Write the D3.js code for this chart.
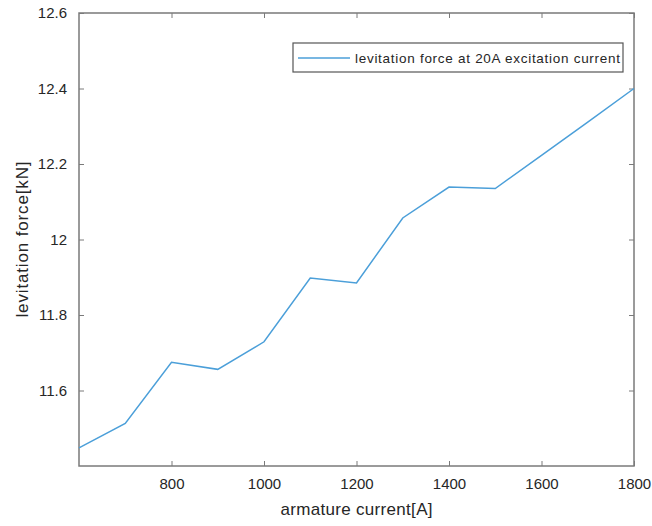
<!DOCTYPE html>
<html>
<head>
<meta charset="utf-8">
<script src="https://cdn.jsdelivr.net/npm/d3@7"></script>
<style>
  body { margin: 0; background: #fff; }
  svg text { font-family: "Liberation Sans", Arial, sans-serif; fill: #262626; }
</style>
</head>
<body>
<div id="chart"></div>
<script>
// data
var current = [600, 700, 800, 900, 1000, 1100, 1200, 1300, 1400, 1500, 1600, 1700, 1800];
var force = [11.448, 11.513, 11.675, 11.656, 11.729, 11.898, 11.885, 12.057, 12.139, 12.135, 12.223, 12.311, 12.4];
var xTicks = [800, 1000, 1200, 1400, 1600, 1800];
var yTicks = [11.6, 11.8, 12, 12.2, 12.4, 12.6];
var seriesName = "levitation force at 20A excitation current";

var width = 652, height = 526;
var margin = { top: 13, right: 18, bottom: 60, left: 79 };

var svg = d3.select("#chart").append("svg")
  .attr("width", width)
  .attr("height", height);

var x = d3.scaleLinear()
  .domain([600, 1800])
  .range([margin.left, width - margin.right]);

var y = d3.scaleLinear()
  .domain([11.4, 12.6])
  .range([height - margin.bottom, margin.top]);

var axisColor = "#7a7a7a";
var tickLen = 5;

// frame
svg.append("rect")
  .attr("x", x(600))
  .attr("y", y(12.6))
  .attr("width", x(1800) - x(600))
  .attr("height", y(11.4) - y(12.6))
  .attr("fill", "none")
  .attr("stroke", axisColor)
  .attr("stroke-width", 1.5);

// bottom axis
var xAxis = svg.append("g")
  .attr("transform", "translate(0," + y(11.4) + ")")
  .call(d3.axisBottom(x).tickValues(xTicks).tickSize(-tickLen).tickPadding(12).tickFormat(d3.format("d")));
xAxis.select(".domain").remove();
xAxis.selectAll("line").attr("stroke", axisColor);
xAxis.selectAll("text").style("font-size", "15px").attr("fill", "#262626");

// top ticks
svg.append("g")
  .attr("transform", "translate(0," + y(12.6) + ")")
  .call(d3.axisTop(x).tickValues(xTicks).tickSize(-tickLen).tickFormat(""))
  .call(function(g) { g.select(".domain").remove(); g.selectAll("line").attr("stroke", axisColor); });

// left axis
var yAxis = svg.append("g")
  .attr("transform", "translate(" + x(600) + ",0)")
  .call(d3.axisLeft(y).tickValues(yTicks).tickSize(-tickLen).tickPadding(12).tickFormat(function(d) { return String(+d.toFixed(1)); }));
yAxis.select(".domain").remove();
yAxis.selectAll("line").attr("stroke", axisColor);
yAxis.selectAll("text").style("font-size", "15px").attr("fill", "#262626");

// right ticks
svg.append("g")
  .attr("transform", "translate(" + x(1800) + ",0)")
  .call(d3.axisRight(y).tickValues(yTicks).tickSize(-tickLen).tickFormat(""))
  .call(function(g) { g.select(".domain").remove(); g.selectAll("line").attr("stroke", axisColor); });

// series line
var line = d3.line()
  .x(function(d, i) { return x(current[i]); })
  .y(function(d) { return y(d); });

svg.append("path")
  .datum(force)
  .attr("d", line)
  .attr("fill", "none")
  .attr("stroke", "#4b9fd9")
  .attr("stroke-width", 1.5);

// axis labels
svg.append("text")
  .attr("x", (x(600) + x(1800)) / 2)
  .attr("y", 515)
  .attr("text-anchor", "middle")
  .style("font-size", "17px")
  .attr("textLength", 152)
  .text("armature current[A]");

svg.append("text")
  .attr("transform", "translate(28," + ((y(11.4) + y(12.6)) / 2) + ") rotate(-90)")
  .attr("text-anchor", "middle")
  .style("font-size", "17px")
  .attr("textLength", 156)
  .text("levitation force[kN]");

// legend
var legend = svg.append("g").attr("transform", "translate(293,43)");
legend.append("rect")
  .attr("width", 330)
  .attr("height", 29)
  .attr("fill", "#fff")
  .attr("stroke", "#555")
  .attr("stroke-width", 1.2);
legend.append("line")
  .attr("x1", 5).attr("x2", 57)
  .attr("y1", 15).attr("y2", 15)
  .attr("stroke", "#4b9fd9")
  .attr("stroke-width", 1.5);
legend.append("text")
  .attr("x", 62)
  .attr("y", 20)
  .style("font-size", "13.5px")
  .attr("textLength", 265)
  .text(seriesName);
</script>
</body>
</html>
